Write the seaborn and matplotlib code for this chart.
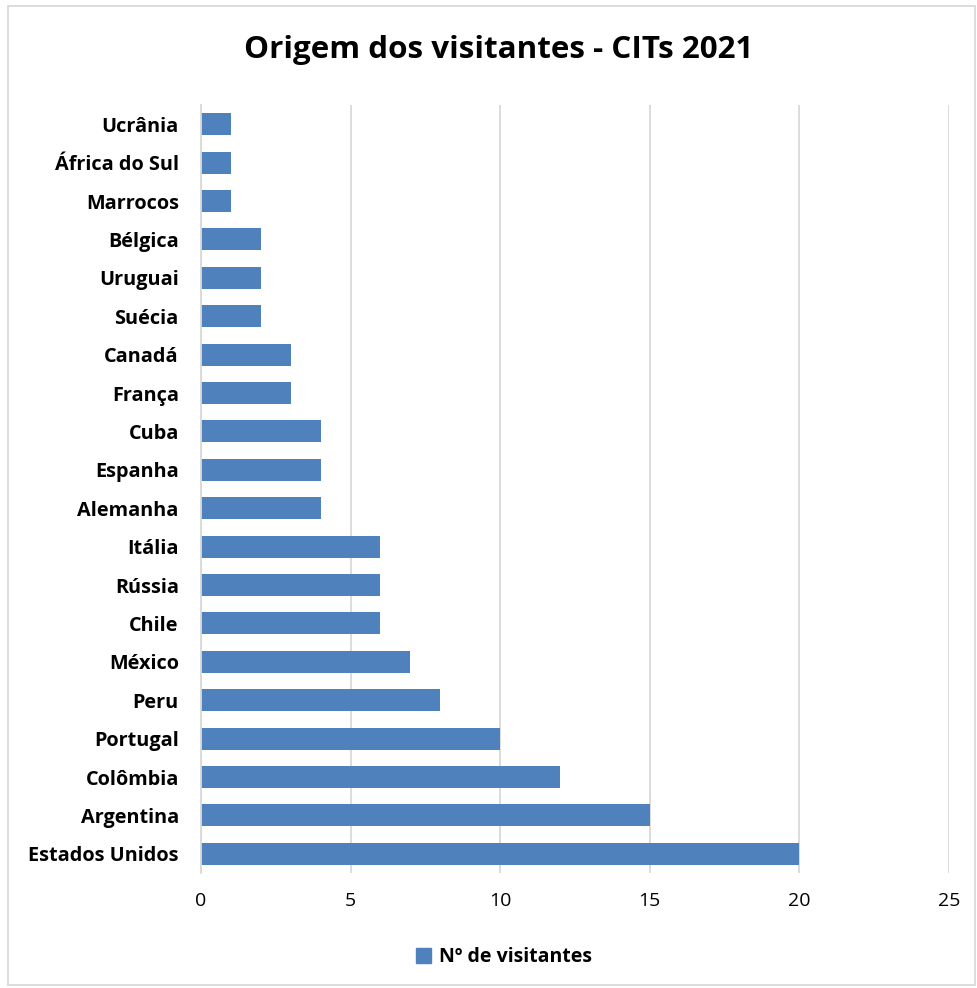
import matplotlib
matplotlib.use("Agg")
import matplotlib.pyplot as plt
import seaborn as sns
import pandas as pd
from matplotlib.patches import Rectangle

countries = ["Ucrânia", "África do Sul", "Marrocos", "Bélgica", "Uruguai", "Suécia",
             "Canadá", "França", "Cuba", "Espanha", "Alemanha", "Itália", "Rússia",
             "Chile", "México", "Peru", "Portugal", "Colômbia", "Argentina", "Estados Unidos"]
visitors = [1, 1, 1, 2, 2, 2, 3, 3, 4, 4, 4, 6, 6, 6, 7, 8, 10, 12, 15, 20]
xticks = [0, 5, 10, 15, 20, 25]
series_name = "Nº de visitantes"
title = "Origem dos visitantes - CITs 2021"

df = pd.DataFrame({"País": countries, series_name: visitors})

sns.set_theme(style="white")
plt.rcParams['font.family'] = ['Open Sans', 'DejaVu Sans']
plt.rcParams['text.color'] = 'black'

fig = plt.figure(figsize=(9.78, 9.88), dpi=100)
ax = fig.add_axes([0.2055, 0.1164, 0.7648, 0.7773])

bar_color = "#4F81BD"
sns.barplot(data=df, y="País", x=series_name, orient="h", color=bar_color,
            width=0.57, ax=ax, saturation=1, linewidth=0)

ax.set_xlim(0, 25)
ax.set_xticks(xticks)
ax.set_xticklabels([str(t) for t in xticks], fontsize=14, color="black")
ax.set_yticklabels(countries, fontsize=14.3, fontweight="bold", color="black")
ax.set_xlabel("")
ax.set_ylabel("")
ax.tick_params(axis="both", length=0)
ax.tick_params(axis="x", pad=14)
ax.tick_params(axis="y", pad=16)
ax.grid(axis="x", color="#D9D9D9", linewidth=1.3)
ax.set_axisbelow(True)
for s in ["top", "right", "bottom"]:
    ax.spines[s].set_visible(False)
ax.spines["left"].set_color("#D9D9D9")
ax.spines["left"].set_linewidth(1.3)

fig.text(0.510, 0.949, title, ha="center", va="center", fontsize=22.6,
         fontweight="bold", color="black")

# legend
handle = Rectangle((0, 0), 1, 1, color=bar_color)
fig.legend([handle], [series_name], loc="center", bbox_to_anchor=(0.515, 0.031),
           frameon=False, prop={"size": 14, "weight": "bold"},
           handlelength=0.8, handleheight=0.8, handletextpad=0.4, labelcolor="black")

# outer border
fig.patches.append(Rectangle((0.008, 0.003), 0.989, 0.991, transform=fig.transFigure,
                             fill=False, edgecolor="#D9D9D9", linewidth=1.3))

fig.savefig("out.png", dpi=100)
